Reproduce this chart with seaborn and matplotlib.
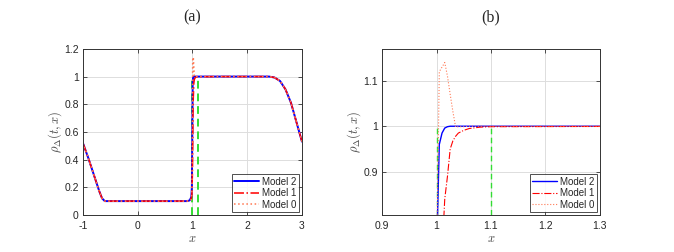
import matplotlib

matplotlib.use("Agg")
import matplotlib.pyplot as plt  # noqa: E402
import seaborn as sns  # noqa: E402
import pandas as pd  # noqa: E402

# values
x = [-1.0, -0.9, -0.8, -0.7, -0.65, -0.6, -0.5, 0.0, 0.5, 0.9, 0.95, 0.98, 0.99,
     1.0, 1.005, 1.01, 1.015, 1.02, 1.025, 1.03, 1.035, 1.04, 1.05, 1.06, 1.08,
     1.1, 1.5, 2.0, 2.4, 2.5, 2.6, 2.7, 2.8, 2.9, 3.0]
model2 = [0.52, 0.41, 0.29, 0.17, 0.12, 0.10, 0.10, 0.10, 0.10, 0.10, 0.105, 0.13, 0.2,
          0.72, 0.96, 0.985, 0.996, 0.999, 1.0, 1.0, 1.0, 1.0, 1.0, 1.0, 1.0,
          1.0, 1.0, 1.0, 1.0, 0.993, 0.968, 0.907, 0.81, 0.67, 0.53]
model1 = [0.52, 0.41, 0.29, 0.17, 0.12, 0.10, 0.10, 0.10, 0.10, 0.10, 0.105, 0.12, 0.15,
          0.3, 0.5, 0.72, 0.84, 0.89, 0.95, 0.968, 0.978, 0.985, 0.991, 0.995, 0.998,
          0.999, 1.0, 1.0, 1.0, 0.993, 0.968, 0.907, 0.81, 0.67, 0.53]
model0 = [0.52, 0.41, 0.29, 0.17, 0.12, 0.10, 0.10, 0.10, 0.10, 0.10, 0.105, 0.11, 0.15,
          0.7, 1.12, 1.13, 1.14, 1.11, 1.07, 1.032, 0.998, 0.999, 0.999, 1.0, 1.0,
          1.0, 1.0, 1.0, 1.0, 0.993, 0.968, 0.907, 0.81, 0.67, 0.53]
ref_x = [1.0, 1.1]
ref_top = 1.0

sns.set_theme(style="ticks")
plt.rcParams["font.family"] = ["Liberation Sans", "DejaVu Sans"]
plt.rcParams["mathtext.fontset"] = "cm"

df = pd.DataFrame({"x": x, "Model 2": model2, "Model 1": model1, "Model 0": model0})

styles = [
    ("Model 2", "#0000ff", "-", 1.0),
    ("Model 1", "#ff0000", "-.", 0.8),
    ("Model 0", "#ff7a55", ":", 0.8),
]

fig = plt.figure(figsize=(6.74, 2.52), dpi=100)
ax_a = fig.add_axes([0.123, 0.147, 0.325, 0.659])
ax_b = fig.add_axes([0.567, 0.147, 0.323, 0.659])


def draw(ax, lw, ylim, xlim, xticks, xlabels, yticks, ylabels, title):
    for name, color, ls, scale in styles:
        sns.lineplot(data=df, x="x", y=name, ax=ax, color=color, linestyle=ls,
                     linewidth=lw * scale, label=name, estimator=None, sort=False)
    ax.vlines(ref_x, max(ylim[0], 0), ref_top, colors="#33dd33",
              linestyles=(0, (4, 2.5)), linewidth=lw, zorder=1)
    ax.set_xlim(xlim)
    ax.set_ylim(ylim)
    ax.set_xticks(xticks, xlabels)
    ax.set_yticks(yticks, ylabels)
    ax.grid(True, color="#dddddd", linewidth=0.7)
    ax.set_axisbelow(True)
    ax.tick_params(direction="in", top=True, right=True, labelsize=7.5,
                   length=3, width=0.6, color="#333333")
    ax.tick_params(axis="x", pad=4)
    ax.tick_params(axis="y", pad=3)
    for sp in ax.spines.values():
        sp.set_linewidth(0.7)
        sp.set_color("#333333")
    ax.set_xlabel("$x$", fontsize=9, color="#444444", labelpad=2)
    ax.set_ylabel(r"$\rho_\Delta(t,x)$", fontsize=9, color="#444444", labelpad=0)
    ax.set_title(title, family=["Liberation Serif"], fontsize=11.5, pad=20)
    leg = ax.legend(loc="lower right", fontsize=7, frameon=True, fancybox=False,
                    edgecolor="#222222", handlelength=2.6, borderpad=0.25,
                    labelspacing=0.15, handletextpad=0.3, borderaxespad=0.3)
    leg.get_frame().set_linewidth(0.7)


draw(ax_a, 1.4, (0, 1.2), (-1, 3), [-1, 0, 1, 2, 3], ["-1", "0", "1", "2", "3"],
     [0, 0.2, 0.4, 0.6, 0.8, 1.0, 1.2], ["0", "0.2", "0.4", "0.6", "0.8", "1", "1.2"],
     "(a)")
draw(ax_b, 1.0, (0.805, 1.17), (0.9, 1.3), [0.9, 1.0, 1.1, 1.2, 1.3],
     ["0.9", "1", "1.1", "1.2", "1.3"], [0.9, 1.0, 1.1], ["0.9", "1", "1.1"],
     "(b)")

fig.savefig("out.png", dpi=100)
plt.close(fig)
